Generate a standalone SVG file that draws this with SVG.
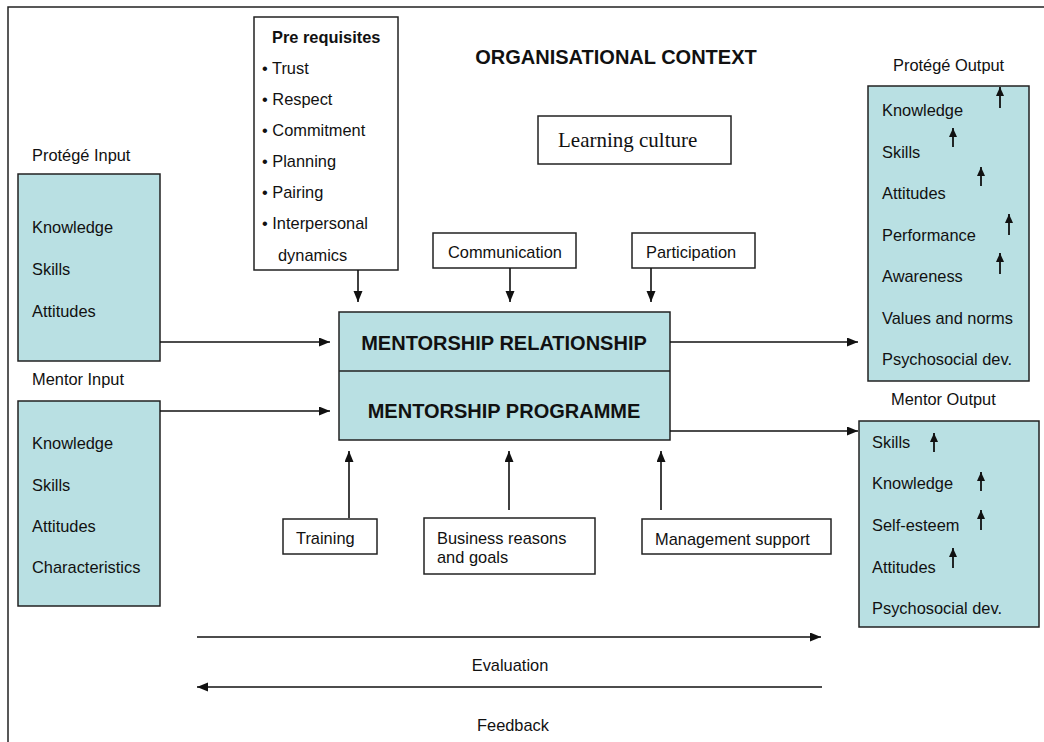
<svg xmlns="http://www.w3.org/2000/svg" width="1044" height="742" viewBox="0 0 1044 742">
<style>
text{font-family:"Liberation Sans",Arial,sans-serif;font-size:16.4px;fill:#111}
.b{font-weight:bold}
.h{font-weight:bold;font-size:20px}
.c{text-anchor:middle}
.ser{font-family:"Liberation Serif","Times New Roman",serif;font-size:21px}
.box{fill:#fff;stroke:#222;stroke-width:1.5}
.tb{fill:#B9E0E3;stroke:#222;stroke-width:1.5}
.ln{stroke:#111;stroke-width:1.6;fill:none}
.sm{stroke:#111;stroke-width:1.8;fill:none}
</style>
<defs>
<marker id="ah" markerUnits="userSpaceOnUse" markerWidth="12" markerHeight="10" refX="11" refY="4.5" orient="auto">
<path d="M0,0 L11,4.5 L0,9 z" fill="#111"/>
</marker>
<marker id="sa" markerUnits="userSpaceOnUse" markerWidth="11" markerHeight="10" refX="9" refY="4" orient="auto">
<path d="M0,0 L9,4 L0,8 z" fill="#111"/>
</marker>
</defs>
<rect x="8" y="7" width="1045" height="745" fill="none" stroke="#222" stroke-width="1.5"/>
<g id="org-context"><text class="h c" x="616" y="64">ORGANISATIONAL CONTEXT</text></g>
<g id="prerequisites">
<rect class="box" x="254" y="17" width="144" height="253"/>
<text class="b" x="272" y="43">Pre requisites</text>
<text x="262" y="74">• Trust</text>
<text x="262" y="105">• Respect</text>
<text x="262" y="136">• Commitment</text>
<text x="262" y="167">• Planning</text>
<text x="262" y="198">• Pairing</text>
<text x="262" y="229">• Interpersonal</text>
<text x="278" y="261">dynamics</text>
</g>
<g id="learning-culture">
<rect class="box" x="538" y="116" width="193" height="48"/>
<text class="ser" x="558" y="147">Learning culture</text>
</g>
<g id="communication">
<rect class="box" x="433" y="233" width="143" height="35"/>
<text x="448" y="258">Communication</text>
</g>
<g id="participation">
<rect class="box" x="632" y="233" width="123" height="35"/>
<text x="646" y="258">Participation</text>
</g>
<g id="protege-input">
<text x="32" y="161">Protégé Input</text>
<rect class="tb" x="18" y="174" width="142" height="187"/>
<text x="32" y="233">Knowledge</text>
<text x="32" y="275">Skills</text>
<text x="32" y="317">Attitudes</text>
</g>
<g id="mentor-input">
<text x="32" y="385">Mentor Input</text>
<rect class="tb" x="18" y="401" width="142" height="205"/>
<text x="32" y="449">Knowledge</text>
<text x="32" y="491">Skills</text>
<text x="32" y="532">Attitudes</text>
<text x="32" y="573">Characteristics</text>
</g>
<g id="mentorship">
<rect class="tb" x="339" y="312" width="331" height="128"/>
<line x1="339" y1="371" x2="670" y2="371" stroke="#222" stroke-width="1.5"/>
<text class="h c" x="504" y="350">MENTORSHIP RELATIONSHIP</text>
<text class="h c" x="504" y="418">MENTORSHIP PROGRAMME</text>
</g>
<g id="training">
<rect class="box" x="283" y="519" width="94" height="35"/>
<text x="296" y="544">Training</text>
</g>
<g id="business">
<rect class="box" x="424" y="518" width="171" height="56"/>
<text x="437" y="544">Business reasons</text>
<text x="437" y="563">and goals</text>
</g>
<g id="management">
<rect class="box" x="642" y="519" width="189" height="35"/>
<text x="655" y="545">Management support</text>
</g>
<g id="protege-output">
<text x="893" y="71">Protégé Output</text>
<rect class="tb" x="868" y="86" width="161" height="295"/>
<text x="882" y="116">Knowledge</text>
<text x="882" y="158">Skills</text>
<text x="882" y="199">Attitudes</text>
<text x="882" y="241">Performance</text>
<text x="882" y="282">Awareness</text>
<text x="882" y="324">Values and norms</text>
<text x="882" y="365">Psychosocial dev.</text>
<path class="sm" marker-end="url(#sa)" d="M1000,108 V87"/>
<path class="sm" marker-end="url(#sa)" d="M953,147 V128"/>
<path class="sm" marker-end="url(#sa)" d="M981,186 V167"/>
<path class="sm" marker-end="url(#sa)" d="M1009,235 V214"/>
<path class="sm" marker-end="url(#sa)" d="M1000,274 V253"/>
</g>
<g id="mentor-output">
<text x="891" y="405">Mentor Output</text>
<rect class="tb" x="859" y="421" width="180" height="206"/>
<text x="872" y="448">Skills</text>
<text x="872" y="489">Knowledge</text>
<text x="872" y="531">Self-esteem</text>
<text x="872" y="573">Attitudes</text>
<text x="872" y="614">Psychosocial dev.</text>
<path class="sm" marker-end="url(#sa)" d="M934,452 V433"/>
<path class="sm" marker-end="url(#sa)" d="M981,491 V472"/>
<path class="sm" marker-end="url(#sa)" d="M981,530 V510"/>
<path class="sm" marker-end="url(#sa)" d="M953,568 V548"/>
</g>
<g id="evaluation"><text class="c" x="510" y="671">Evaluation</text></g>
<g id="feedback"><text class="c" x="513" y="731">Feedback</text></g>
<g id="connectors">
<path class="ln" marker-end="url(#ah)" d="M358,270 V302"/>
<path class="ln" marker-end="url(#ah)" d="M510,268 V302"/>
<path class="ln" marker-end="url(#ah)" d="M651,268 V302"/>
<path class="ln" marker-end="url(#ah)" d="M160,342 H330"/>
<path class="ln" marker-end="url(#ah)" d="M160,411 H330"/>
<path class="ln" stroke-width="2" marker-end="url(#ah)" d="M349,518 V451"/>
<path class="ln" marker-end="url(#ah)" d="M509,510 V451"/>
<path class="ln" marker-end="url(#ah)" d="M661,510 V451"/>
<path class="ln" marker-end="url(#ah)" d="M670,342 H858"/>
<path class="ln" marker-end="url(#ah)" d="M670,431 H858"/>
<path class="ln" stroke-width="2" marker-end="url(#ah)" d="M197,637 H821"/>
<path class="ln" stroke-width="2" marker-end="url(#ah)" d="M822,687 H197"/>
</g>
</svg>
